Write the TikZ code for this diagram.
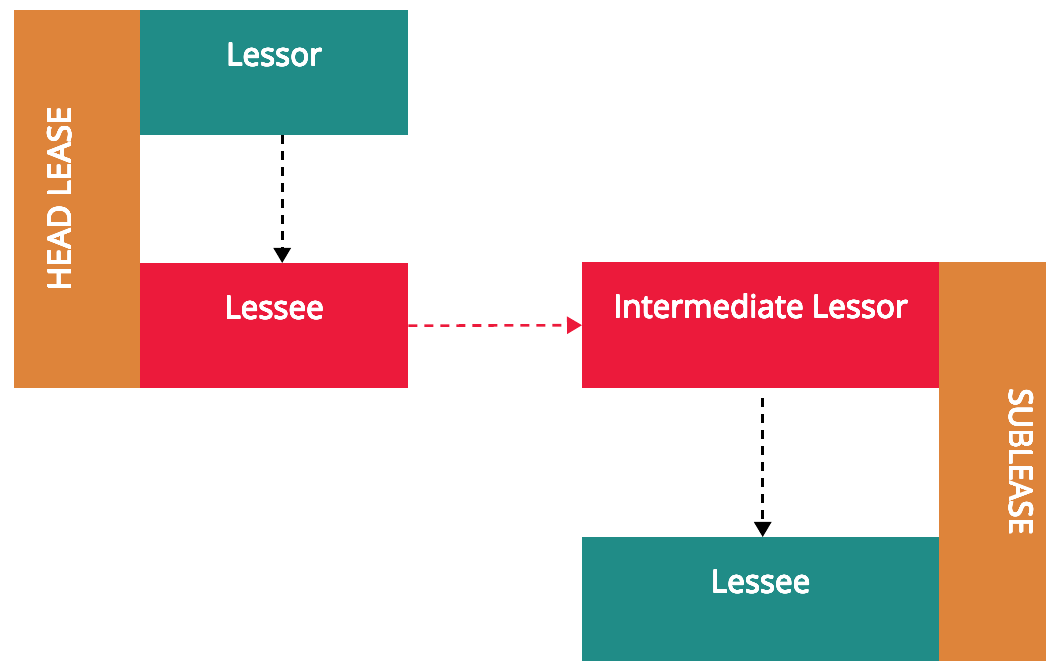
\documentclass[tikz,border=0pt]{standalone}
\usepackage{fontspec}
\setmainfont{Open Sans}
\usepackage[copies]{contour}
\contourlength{0.4pt}
\contournumber{16}
\usetikzlibrary{arrows.meta}
\definecolor{leaseorange}{HTML}{DE843A}
\definecolor{leaseteal}{HTML}{208C87}
\definecolor{leasered}{HTML}{EC1A3B}
% white text with a slightly heavier stroke
\newcommand{\heavy}[1]{\contour{white}{#1}}
\tikzset{
  x=1pt, y=1pt,
  block/.style={draw=none, inner sep=0pt, anchor=north west},
  boxtext/.style={text=white, font=\fontsize{31.5}{36}\selectfont, anchor=base, inner sep=0pt},
  sidetext/.style={text=white, font=\fontsize{32}{36}\selectfont, inner sep=0pt},
  flow/.style={line width=2.6pt, dash pattern=on 9pt off 7pt,
    -{Triangle[width=17pt,length=15pt]}},
}
\begin{document}
\begin{tikzpicture}
\useasboundingbox (0,0) rectangle (1046,661);
% head lease group
\node[block, fill=leaseorange, minimum width=126pt, minimum height=378pt] (headbar) at (14,651) {};
\node[block, fill=leaseteal, minimum width=268pt, minimum height=125pt] (lessor) at (140,651) {};
\node[block, fill=leasered, minimum width=268pt, minimum height=125pt] (lessee) at (140,398) {};
% sublease group
\node[block, fill=leasered, minimum width=357pt, minimum height=126pt] (inter) at (582,399) {};
\node[block, fill=leaseorange, minimum width=107pt, minimum height=399pt] (subbar) at (939,399) {};
\node[block, fill=leaseteal, minimum width=357pt, minimum height=124pt] (sublessee) at (582,124) {};
% labels
\node[boxtext] (tlessor) at ([yshift=-56pt]lessor.north) {\heavy{Lessor}};
\node[boxtext] (tlessee) at ([yshift=-56pt]lessee.north) {\heavy{Lessee}};
\node[boxtext] (tinter) at ([yshift=-56pt]inter.north) {\heavy{Intermediate Lessor}};
\node[boxtext] (tsublessee) at ([yshift=-56pt]sublessee.north) {\heavy{Lessee}};
\node[sidetext, rotate=90] (thead) at (60,462) {\heavy{HEAD LEASE}};
\node[sidetext, rotate=-90, xscale=0.96] (tsub) at (1021,199) {\heavy{SUBLEASE}};
% connectors
\draw[flow, black] ([xshift=8pt]lessor.south) -- ([xshift=8pt]lessee.north);
\draw[flow, leasered] (lessee.east) -- (inter.west);
\draw[flow, black] ([xshift=2pt,yshift=-10pt]inter.south) -- ([xshift=2pt]sublessee.north);
\end{tikzpicture}
\end{document}
